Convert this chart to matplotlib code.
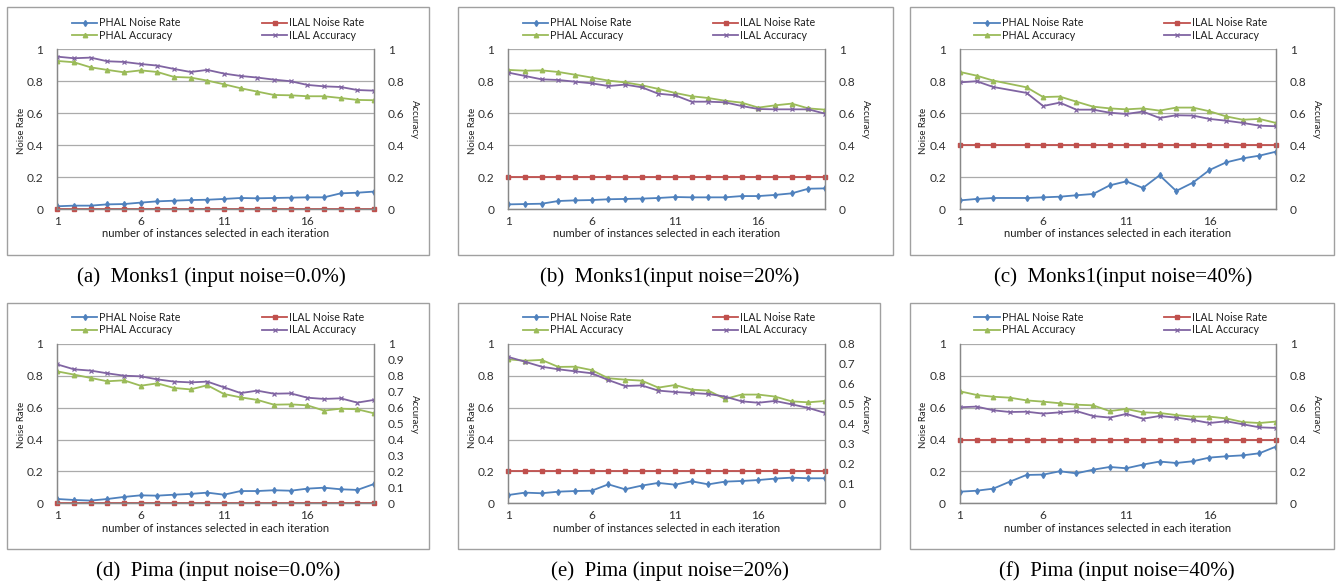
import numpy as np
import matplotlib
matplotlib.use('Agg')
import matplotlib.pyplot as plt
from matplotlib.patches import Rectangle

plt.rcParams['font.family'] = ['Lato', 'DejaVu Sans']

W, H = 1337, 586

x = list(range(1, 21))
x_c = [1, 2, 3] + list(range(5, 21))   # panel (c) has no point at 4

# (a) Monks1, input noise 0.0%
a_phal_noise = [0.017, 0.021, 0.021, 0.029, 0.031, 0.040, 0.048, 0.052, 0.056, 0.058,
                0.063, 0.069, 0.067, 0.069, 0.071, 0.073, 0.073, 0.098, 0.102, 0.109]
a_ilal_noise = [0.0] * 20
a_phal_acc = [0.927, 0.919, 0.887, 0.871, 0.856, 0.868, 0.858, 0.827, 0.823, 0.804,
              0.781, 0.756, 0.735, 0.714, 0.712, 0.706, 0.706, 0.695, 0.683, 0.681]
a_ilal_acc = [0.954, 0.944, 0.948, 0.925, 0.921, 0.908, 0.898, 0.877, 0.858, 0.871,
              0.848, 0.833, 0.823, 0.810, 0.800, 0.777, 0.768, 0.764, 0.745, 0.741]

# (b) Monks1, input noise 20%
b_phal_noise = [0.029, 0.031, 0.033, 0.050, 0.054, 0.056, 0.061, 0.063, 0.065, 0.069,
                0.075, 0.073, 0.073, 0.073, 0.081, 0.081, 0.088, 0.098, 0.127, 0.129]
b_ilal_noise = [0.2] * 20
b_phal_acc = [0.871, 0.866, 0.868, 0.858, 0.841, 0.823, 0.804, 0.793, 0.775, 0.752,
              0.727, 0.706, 0.695, 0.678, 0.666, 0.635, 0.649, 0.660, 0.630, 0.622]
b_ilal_acc = [0.854, 0.833, 0.812, 0.808, 0.797, 0.787, 0.770, 0.779, 0.762, 0.722,
              0.712, 0.672, 0.672, 0.668, 0.645, 0.626, 0.624, 0.624, 0.624, 0.597]

# (c) Monks1, input noise 40%
c_phal_noise = [0.054, 0.063, 0.069, 0.069, 0.073, 0.077, 0.086, 0.094, 0.148, 0.173,
                0.132, 0.211, 0.113, 0.165, 0.244, 0.292, 0.317, 0.334, 0.359]
c_ilal_noise = [0.4] * 19
c_phal_acc = [0.858, 0.835, 0.804, 0.762, 0.701, 0.704, 0.672, 0.641, 0.630, 0.624,
              0.630, 0.616, 0.635, 0.635, 0.612, 0.580, 0.559, 0.564, 0.539]
c_ilal_acc = [0.793, 0.800, 0.764, 0.727, 0.645, 0.666, 0.622, 0.622, 0.603, 0.595,
              0.610, 0.570, 0.587, 0.585, 0.564, 0.553, 0.539, 0.522, 0.518]

# (d) Pima, input noise 0.0%
d_phal_noise = [0.027, 0.021, 0.017, 0.027, 0.040, 0.050, 0.048, 0.054, 0.059, 0.067,
                0.054, 0.077, 0.077, 0.082, 0.079, 0.092, 0.098, 0.088, 0.084, 0.121]
d_ilal_noise = [0.0] * 20
d_phal_acc = [0.828, 0.808, 0.787, 0.766, 0.772, 0.738, 0.753, 0.724, 0.715, 0.741,
              0.686, 0.665, 0.649, 0.619, 0.621, 0.615, 0.582, 0.594, 0.590, 0.565]
d_ilal_acc = [0.872, 0.841, 0.833, 0.816, 0.801, 0.797, 0.778, 0.764, 0.759, 0.764,
              0.728, 0.692, 0.707, 0.688, 0.690, 0.663, 0.655, 0.659, 0.632, 0.649]

# (e) Pima, input noise 20%
e_phal_noise = [0.052, 0.067, 0.063, 0.073, 0.077, 0.079, 0.119, 0.088, 0.111, 0.128,
                0.117, 0.138, 0.119, 0.136, 0.140, 0.146, 0.155, 0.161, 0.157, 0.157]
e_ilal_noise = [0.2] * 20
e_phal_acc = [0.723, 0.716, 0.720, 0.685, 0.686, 0.669, 0.628, 0.621, 0.616, 0.581,
              0.594, 0.571, 0.566, 0.524, 0.546, 0.546, 0.536, 0.512, 0.507, 0.514]
e_ilal_acc = [0.735, 0.711, 0.686, 0.673, 0.663, 0.653, 0.619, 0.589, 0.592, 0.566,
              0.559, 0.554, 0.549, 0.536, 0.512, 0.505, 0.514, 0.497, 0.479, 0.454]

# (f) Pima, input noise 40%
f_phal_noise = [0.073, 0.079, 0.092, 0.136, 0.178, 0.180, 0.201, 0.188, 0.211, 0.228,
                0.220, 0.243, 0.262, 0.253, 0.264, 0.287, 0.295, 0.301, 0.314, 0.356]
f_ilal_noise = [0.4] * 20
f_phal_acc = [0.703, 0.680, 0.669, 0.663, 0.646, 0.638, 0.628, 0.619, 0.615, 0.579,
              0.592, 0.571, 0.567, 0.554, 0.544, 0.544, 0.533, 0.510, 0.504, 0.513]
f_ilal_acc = [0.603, 0.607, 0.584, 0.573, 0.575, 0.563, 0.571, 0.579, 0.548, 0.538,
              0.561, 0.531, 0.548, 0.538, 0.523, 0.504, 0.515, 0.496, 0.477, 0.473]

captions = ['(a)  Monks1 (input noise=0.0%)', '(b)  Monks1(input noise=20%)',
            '(c)  Monks1(input noise=40%)', '(d)  Pima (input noise=0.0%)',
            '(e)  Pima (input noise=20%)', '(f)  Pima (input noise=40%)']

C_BLUE, C_RED, C_GREEN, C_PURPLE = '#4F81BD', '#C0504D', '#9BBB59', '#8064A2'
GRID = '#ababab'
TXT = '#303030'

fig = plt.figure(figsize=(W / 100, H / 100), dpi=100)


def px_axes(l, t, r, b):
    return fig.add_axes([l / W, 1 - b / H, (r - l) / W, (b - t) / H])


def panel(plot_box, frame_box, cap_xy, xs, pn, inn, pa, ia, cap, acc_max=1.0, acc_step=0.2):
    l, t, r, b = plot_box
    fl, ft, fr, fb = frame_box
    fig.patches.append(Rectangle((fl / W, 1 - fb / H), (fr - fl) / W, (fb - ft) / H,
                                 transform=fig.transFigure, fill=False,
                                 edgecolor='#a0a0a0', lw=1.0))
    ax = px_axes(l, t, r, b)
    ax2 = ax.twinx()
    ax.set_xlim(1, 20)
    ax.set_ylim(0, 1)
    ax2.set_ylim(0, acc_max)
    ax.set_xticks([1, 6, 11, 16])
    ax.set_yticks(np.arange(0, 1.01, 0.2))
    ax.set_yticklabels(['0', '0.2', '0.4', '0.6', '0.8', '1'])
    ticks2 = np.round(np.arange(0, acc_max + 0.001, acc_step), 2)
    ax2.set_yticks(ticks2)
    ax2.set_yticklabels(['0' if v == 0 else ('1' if v == 1 else f'{v:g}') for v in ticks2])
    ax.yaxis.grid(True, color=GRID, lw=0.9)
    ax.set_axisbelow(True)
    for a in (ax, ax2):
        a.tick_params(length=0, labelsize=8.6, colors=TXT)
        a.spines['top'].set_visible(False)
        for s in ('left', 'right', 'bottom'):
            a.spines[s].set_color('#888888')
            a.spines[s].set_linewidth(0.9)
    ax.tick_params(axis='y', pad=10)
    ax2.tick_params(axis='y', pad=10)
    ax.tick_params(axis='x', pad=5)
    h1, = ax.plot(xs, pn, color=C_BLUE, lw=1.3, marker='d', ms=3, label='PHAL Noise Rate')
    h2, = ax.plot(xs, inn, color=C_RED, lw=1.3, marker='s', ms=3.2, label='ILAL Noise Rate',
                  clip_on=False)
    h3, = ax2.plot(xs, pa, color=C_GREEN, lw=1.3, marker='^', ms=3.2, label='PHAL Accuracy')
    h4, = ax2.plot(xs, ia, color=C_PURPLE, lw=1.3, marker='x', ms=3, mew=0.9,
                   label='ILAL Accuracy')
    ax.set_ylabel('Noise Rate', fontsize=6.9, color='#202020', va='center')
    ax.yaxis.set_label_coords(-36.0 / (r - l), 0.49)
    ax2.set_ylabel('Accuracy', fontsize=6.9, color='#202020', rotation=270, va='center')
    ax2.yaxis.set_label_coords(1 + 40.5 / (r - l), 0.56)
    ax.set_xlabel('number of instances selected in each iteration', fontsize=8.1,
                  color='#202020', labelpad=1)
    fig.legend([h1, h3, h2, h4], ['PHAL Noise Rate', 'PHAL Accuracy',
                                  'ILAL Noise Rate', 'ILAL Accuracy'],
               ncol=2, frameon=False, fontsize=7.7, loc='upper left',
               bbox_to_anchor=((l + 14.5) / W, 1 - (t - 32) / H),
               borderpad=0, borderaxespad=0, handlelength=2.4, handletextpad=0.15,
               columnspacing=7.6, labelspacing=0.12, labelcolor='#202020')
    fig.text(cap_xy[0] / W, 1 - cap_xy[1] / H, cap, fontsize=15,
             family='Liberation Serif', ha='center', va='center')


cols = [(57.3, 374), (508.3, 825), (960, 1276)]
rows = [(49.3, 209), (344, 503.3)]
frames_top = [(7, 7, 429, 255), (458, 7, 893, 255), (910, 7, 1334, 255)]
frames_bot = [(7, 303, 429, 549), (458, 303, 880, 549), (910, 303, 1334, 549)]
caps_top = [(211, 277), (670, 277), (1123, 277)]
caps_bot = [(218, 571), (670, 571), (1117, 571)]

panel((cols[0][0], rows[0][0], cols[0][1], rows[0][1]), frames_top[0], caps_top[0],
      x, a_phal_noise, a_ilal_noise, a_phal_acc, a_ilal_acc, captions[0])
panel((cols[1][0], rows[0][0], cols[1][1], rows[0][1]), frames_top[1], caps_top[1],
      x, b_phal_noise, b_ilal_noise, b_phal_acc, b_ilal_acc, captions[1])
panel((cols[2][0], rows[0][0], cols[2][1], rows[0][1]), frames_top[2], caps_top[2],
      x_c, c_phal_noise, c_ilal_noise, c_phal_acc, c_ilal_acc, captions[2])
panel((cols[0][0], rows[1][0], cols[0][1], rows[1][1]), frames_bot[0], caps_bot[0],
      x, d_phal_noise, d_ilal_noise, d_phal_acc, d_ilal_acc, captions[3],
      acc_max=1.0, acc_step=0.1)
panel((cols[1][0], rows[1][0], cols[1][1], rows[1][1]), frames_bot[1], caps_bot[1],
      x, e_phal_noise, e_ilal_noise, e_phal_acc, e_ilal_acc, captions[4],
      acc_max=0.8, acc_step=0.1)
panel((cols[2][0], rows[1][0], cols[2][1], rows[1][1]), frames_bot[2], caps_bot[2],
      x, f_phal_noise, f_ilal_noise, f_phal_acc, f_ilal_acc, captions[5])

fig.savefig('out.png', dpi=100)
